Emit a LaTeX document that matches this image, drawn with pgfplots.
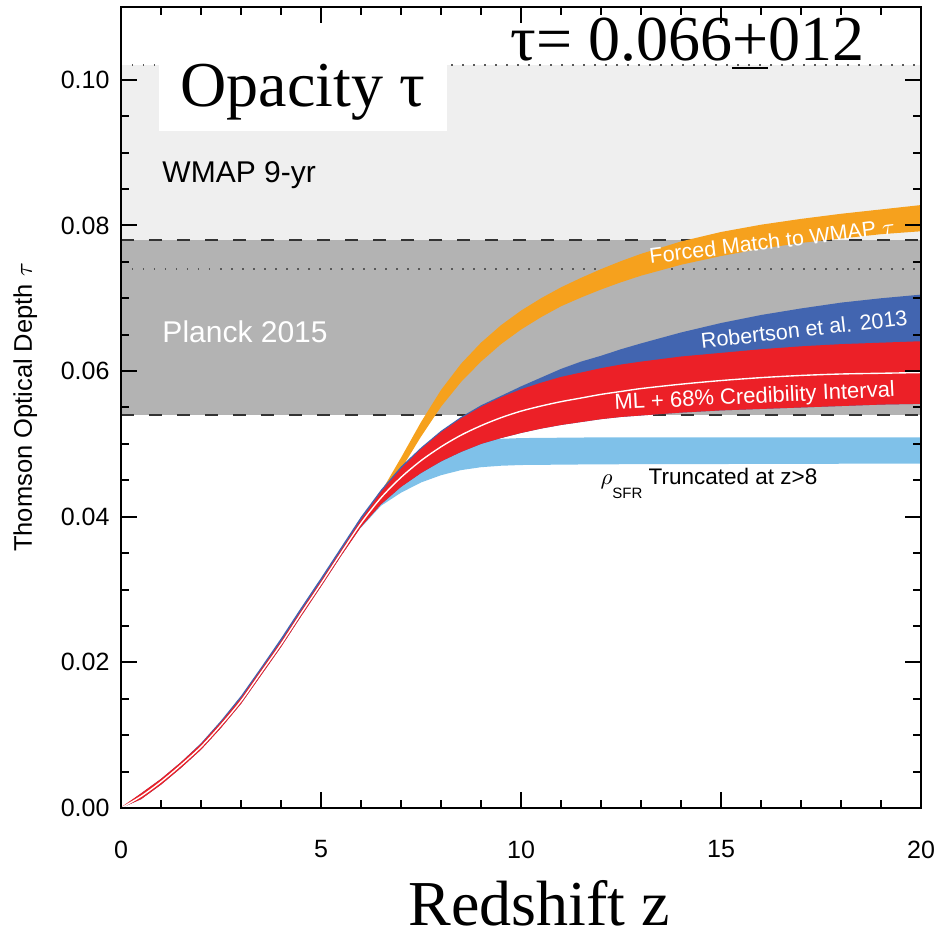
\documentclass[border=0pt]{standalone}
\usepackage{fontspec}
\setmainfont{Liberation Sans}
\newfontfamily\timesfont{Liberation Serif}
\usepackage{pgfplots}
\pgfplotsset{compat=1.18}

\definecolor{wmapgrey}{RGB}{239,239,239}
\definecolor{planckgrey}{RGB}{179,179,179}
\definecolor{forcedorange}{RGB}{246,161,29}
\definecolor{robblue}{RGB}{66,101,176}
\definecolor{mlred}{RGB}{236,32,39}
\definecolor{truncblue}{RGB}{127,193,233}

\begin{document}
\begin{tikzpicture}
\begin{axis}[
    name=ax,
    width=320pt, height=320.4pt, scale only axis,
    xmin=0, xmax=20, ymin=0, ymax=0.11,
    xtick={0,5,10,15,20}, minor x tick num=4,
    ytick={0,0.02,0.04,0.06,0.08,0.10}, minor y tick num=3,
    scaled y ticks=false,
    /pgf/number format/assume math mode=true,
    tick label style={font=\fontsize{10}{12}\selectfont},
    xticklabel style={yshift=-9.5pt},
    yticklabel style={xshift=-1.1pt, /pgf/number format/.cd, fixed, fixed zerofill, precision=2},
    tick align=inside,
    major tick length=6.4pt, minor tick length=3.2pt,
    every tick/.style={black, line width=0.8pt},
    axis line style={line width=0.9pt},
    axis on top,
    xlabel={Redshift z},
    xlabel style={font=\timesfont\fontsize{25.6}{28}\selectfont, inner sep=0pt,
        at={(axis description cs:0.5225,-0.147)}, anchor=base},
    ylabel={Thomson Optical Depth $\tau$},
    ylabel style={font=\fontsize{10.2}{12}\selectfont,
        at={(axis description cs:-0.11125,0.5)}, anchor=base},
]
% WMAP 9-yr and Planck 2015 bands
\addplot[fill=wmapgrey, draw=none] coordinates {(0,0.074) (20,0.074) (20,0.102) (0,0.102)} -- cycle;
\addplot[fill=planckgrey, draw=none] coordinates {(0,0.054) (20,0.054) (20,0.078) (0,0.078)} -- cycle;
\addplot[black!65, line width=0.6pt, dash pattern=on 0.6pt off 3.8pt] coordinates {(0,0.102) (20,0.102)};
\addplot[black!65, line width=0.6pt, dash pattern=on 0.6pt off 3.8pt] coordinates {(0,0.074) (20,0.074)};
\addplot[black!80, line width=0.7pt, dash pattern=on 5.2pt off 6pt] coordinates {(0,0.078) (20,0.078)};
\addplot[black!80, line width=0.7pt, dash pattern=on 5.2pt off 6pt] coordinates {(0,0.054) (20,0.054)};

\fill[white] (axis cs:0.95,0.0930) rectangle (axis cs:8.15,0.1022);

% rho_SFR truncated at z>8
\addplot[fill=truncblue, draw=none] coordinates {
  (6,0.0391) (6.5,0.0426) (7,0.0452) (7.5,0.0473) (8,0.0489) (8.5,0.0499) (9,0.0504)
  (9.5,0.0507) (10,0.0508) (12,0.0509) (20,0.0509)
  (20,0.0473) (12,0.0472) (10,0.0471) (9.5,0.0470) (9,0.0468) (8.5,0.0464) (8,0.0457)
  (7.5,0.0447) (7,0.0433) (6.5,0.0415) (6,0.0385)} -- cycle;

% forced match to WMAP tau
\addplot[fill=forcedorange, draw=none] coordinates {
  (6,0.0396) (6.5,0.0434) (7,0.0481) (7.5,0.0530) (8,0.0574) (8.5,0.0610) (9,0.0639)
  (9.5,0.0663) (10,0.0683) (10.5,0.0700) (11,0.0715) (11.5,0.0728) (12,0.0740)
  (12.5,0.0751) (13,0.0761) (14,0.0778) (15,0.0791) (16,0.0801) (17,0.0809)
  (18,0.0816) (19,0.0822) (20,0.0828)
  (20,0.0792) (19,0.0788) (18,0.0782) (17,0.0776) (16,0.0768) (15,0.0758) (14,0.0746)
  (13,0.0731) (12.5,0.0722) (12,0.0712) (11.5,0.0701) (11,0.0689) (10.5,0.0674)
  (10,0.0657) (9.5,0.0637) (9,0.0613) (8.5,0.0585) (8,0.0551) (7.5,0.0510) (7,0.0465)
  (6.5,0.0424) (6,0.0388)} -- cycle;

% Robertson et al. 2013
\addplot[fill=robblue, draw=none] coordinates {
  (0,0) (0.5,0.0020) (1,0.0040) (1.5,0.0063) (2,0.0089) (2.5,0.0120) (3,0.0154)
  (3.5,0.0193) (4,0.0233) (4.5,0.0275) (5,0.0316) (5.5,0.0358) (6,0.0400) (6.5,0.0437)
  (7,0.0469) (7.5,0.0495) (8,0.0518) (8.5,0.0537) (9,0.0553) (9.5,0.0566) (10,0.0579)
  (10.5,0.0591) (11,0.0603) (11.5,0.0613) (12,0.0621) (12.5,0.0630) (13,0.0638)
  (14,0.0653) (15,0.0666) (16,0.0677) (17,0.0686) (18,0.0694) (19,0.0700) (20,0.0705)
  (20,0.0555) (19,0.0554) (18,0.0552) (17,0.0550) (16,0.0548) (15,0.0546) (14,0.0543)
  (13,0.0539) (12.5,0.0537) (12,0.0534) (11.5,0.0530) (11,0.0526) (10.5,0.0521)
  (10,0.0515) (9.5,0.0508) (9,0.0500) (8.5,0.0489) (8,0.0476) (7.5,0.0460) (7,0.0441)
  (6.5,0.0417) (6,0.0386) (5.5,0.0346) (5,0.0304) (4.5,0.0263) (4,0.0221) (3.5,0.0182)
  (3,0.0143) (2.5,0.0110) (2,0.0080) (1.5,0.0055) (1,0.0032) (0.5,0.0012) (0,0)} -- cycle;

% ML + 68% credibility interval
\addplot[fill=mlred, draw=none] coordinates {
  (0,0.0001) (0.5,0.0020) (1,0.0040) (1.5,0.0063) (2,0.0088) (2.5,0.0118) (3,0.0151)
  (3.5,0.0190) (4,0.0229) (4.5,0.0271) (5,0.0312) (5.5,0.0354) (6,0.0396) (6.5,0.0434)
  (7,0.0466) (7.5,0.0493) (8,0.0516) (8.5,0.0535) (9,0.0551) (9.5,0.0564) (10,0.0575)
  (10.5,0.0584) (11,0.0592) (11.5,0.0598) (12,0.0604) (12.5,0.0609) (13,0.0613)
  (14,0.0620) (15,0.0625) (16,0.0630) (17,0.0634) (18,0.0637) (19,0.0639) (20,0.0641)
  (20,0.0555) (19,0.0554) (18,0.0552) (17,0.0550) (16,0.0548) (15,0.0546) (14,0.0543)
  (13,0.0539) (12.5,0.0537) (12,0.0534) (11.5,0.0530) (11,0.0526) (10.5,0.0521)
  (10,0.0515) (9.5,0.0508) (9,0.0500) (8.5,0.0489) (8,0.0476) (7.5,0.0460) (7,0.0441)
  (6.5,0.0417) (6,0.0386) (5.5,0.0346) (5,0.0304) (4.5,0.0263) (4,0.0221) (3.5,0.0182)
  (3,0.0143) (2.5,0.0110) (2,0.0080) (1.5,0.0055) (1,0.0032) (0.5,0.0012) (0,0)} -- cycle;
\addplot[white, line width=0.55pt, smooth] coordinates {
  (0,0) (0.5,0.0016) (1,0.0036) (1.5,0.0059) (2,0.0084) (2.5,0.0114) (3,0.0147)
  (3.5,0.0186) (4,0.0225) (4.5,0.0267) (5,0.0308) (5.5,0.0350) (6,0.0391) (6.5,0.0426)
  (7,0.0454) (7.5,0.0477) (8,0.0496) (8.5,0.0512) (9,0.0525) (9.5,0.0536) (10,0.0545)
  (10.5,0.0552) (11,0.0558) (11.5,0.0563) (12,0.0568) (12.5,0.0572) (13,0.0576)
  (14,0.0582) (15,0.0587) (16,0.0591) (17,0.0594) (18,0.0596) (19,0.0597) (20,0.0598)};

% labels
\node[anchor=base west, font=\timesfont\fontsize{25.6}{28}\selectfont, inner sep=0pt]
    at (axis cs:1.475,0.0963) {Opacity τ};
\node[anchor=base west, font=\timesfont\fontsize{25.6}{28}\selectfont, inner sep=0pt]
    at (axis cs:9.725,0.1027)
    {τ= 0.066\makebox[0pt][l]{\rule[-3.6pt]{14.4pt}{0.9pt}}+012};
\node[anchor=base west, font=\fontsize{12}{14}\selectfont, inner sep=0pt]
    at (axis cs:1.025,0.0859) {WMAP 9-yr};
\node[anchor=base west, font=\fontsize{12}{14}\selectfont, inner sep=0pt, white]
    at (axis cs:1.025,0.0639) {Planck 2015};
\node[anchor=base, rotate=7, font=\fontsize{8.6}{10}\selectfont, inner sep=0pt, white]
    at (axis cs:16.3,0.0768) {Forced Match to WMAP $\tau$};
\node[anchor=base, rotate=6.5, font=\fontsize{8.6}{10}\selectfont, inner sep=0pt, white]
    at (axis cs:17.1,0.0647) {Robertson et al. 2013};
\node[anchor=base, rotate=2.7, font=\fontsize{8.8}{10}\selectfont, inner sep=0pt, white]
    at (axis cs:15.85,0.0556) {ML + 68\% Credibility Interval};
\node[anchor=base west, font=\fontsize{9}{11}\selectfont, inner sep=0pt]
    at (axis cs:11.975,0.0444)
    {$\rho$\raisebox{-5.4pt}{\fontsize{6}{7}\selectfont SFR}\hspace{2.5pt}Truncated at z>8};
\end{axis}
\pgfresetboundingbox
\path[use as bounding box] ([shift={(-48.4pt,-53.2pt)}]ax.south west)
    rectangle ([shift={(7.2pt,2.8pt)}]ax.north east);
\end{tikzpicture}
\end{document}
